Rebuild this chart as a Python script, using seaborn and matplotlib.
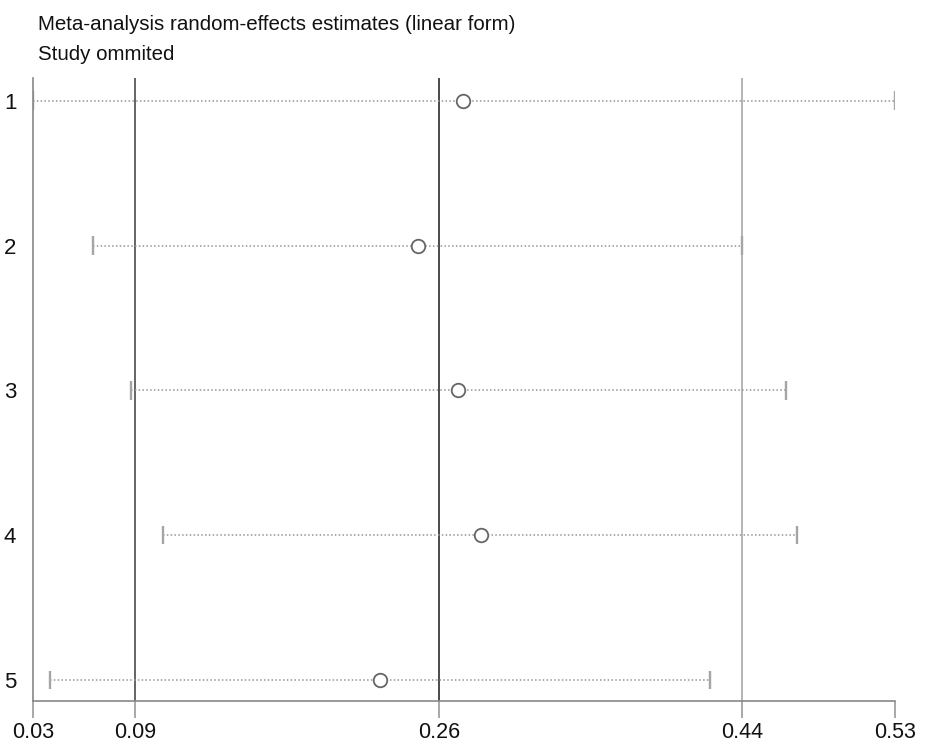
import matplotlib
matplotlib.use("Agg")
import matplotlib.pyplot as plt
from matplotlib import font_manager
import seaborn as sns
import pandas as pd

# ---- data ----
studies = ["1", "2", "3", "4", "5"]
estimate = [0.2794, 0.2533, 0.2765, 0.2899, 0.2313]
ci_lower = [0.0300, 0.0648, 0.0868, 0.1054, 0.0399]
ci_upper = [0.5300, 0.4413, 0.4668, 0.4732, 0.4227]
ref_values = [0.0892, 0.2655, 0.4413]
tick_values = [0.0300, 0.0892, 0.2655, 0.4413, 0.5300]
tick_labels = ["0.03", "0.09", "0.26", "0.44", "0.53"]
title_lines = ["Meta-analysis random-effects estimates (linear form)", "Study ommited"]

sns.set_theme(style="white")
names = {f.name for f in font_manager.fontManager.ttflist}
fam = "Liberation Sans Narrow" if "Liberation Sans Narrow" in names else "Liberation Sans"
plt.rcParams["font.family"] = [fam, "DejaVu Sans"]

df = pd.DataFrame({"study": studies, "pos": range(1, len(studies) + 1),
                   "est": estimate, "lo": ci_lower, "hi": ci_upper})

fig = plt.figure(figsize=(9.27, 7.45), dpi=100)
ax = fig.add_axes([33 / 927, 1 - 701 / 745, (895 - 33) / 927, (701 - 78) / 745])

# reference lines
ref_colors = ["#4a4a4a", "#4a4a4a", "#a8a8a8"]
ref_widths = [1.2, 1.4, 1.2]
for v, c, w in zip(ref_values, ref_colors, ref_widths):
    ax.axvline(v, color=c, lw=w, zorder=1)

# CI dotted lines and caps
ax.hlines(df["pos"], df["lo"], df["hi"], colors="#959595", lw=1.1,
          linestyles=(0, (1, 1.5)), zorder=2)
ax.vlines(df["lo"], df["pos"] - 0.064, df["pos"] + 0.064, colors="#a5a5a5", lw=1.7, zorder=2)
ax.vlines(df["hi"], df["pos"] - 0.064, df["pos"] + 0.064, colors="#a5a5a5", lw=1.7, zorder=2)

# point estimates
sns.scatterplot(data=df, x="est", y="pos", ax=ax, marker="o", s=95,
                facecolor="white", edgecolor="#666666", linewidth=1.3, zorder=3)

ax.set_xlim(0.03, 0.53)
ax.set_ylim(5.145, 0.843)
ax.set_xticks(tick_values)
ax.set_xticklabels(tick_labels)
ax.set_yticks(df["pos"])
ax.set_yticklabels(df["study"])
ax.set_xlabel("")
ax.set_ylabel("")

for s in ["top", "right"]:
    ax.spines[s].set_visible(False)
for s in ["left", "bottom"]:
    ax.spines[s].set_color("#888888")
    ax.spines[s].set_linewidth(1.2)

ax.tick_params(axis="x", length=12, width=1.2, color="#999999", pad=3,
               labelsize=15.5, labelcolor="#111111", bottom=True)
ax.tick_params(axis="y", length=0, pad=12, labelsize=16, labelcolor="#111111")

fig.text(38 / 927, 1 - 25 / 745, title_lines[0], fontsize=14.8, color="#111111", va="center", ha="left")
fig.text(38 / 927, 1 - 54 / 745, title_lines[1], fontsize=14.8, color="#111111", va="center", ha="left")

fig.savefig("out.png", dpi=100, facecolor="white")
